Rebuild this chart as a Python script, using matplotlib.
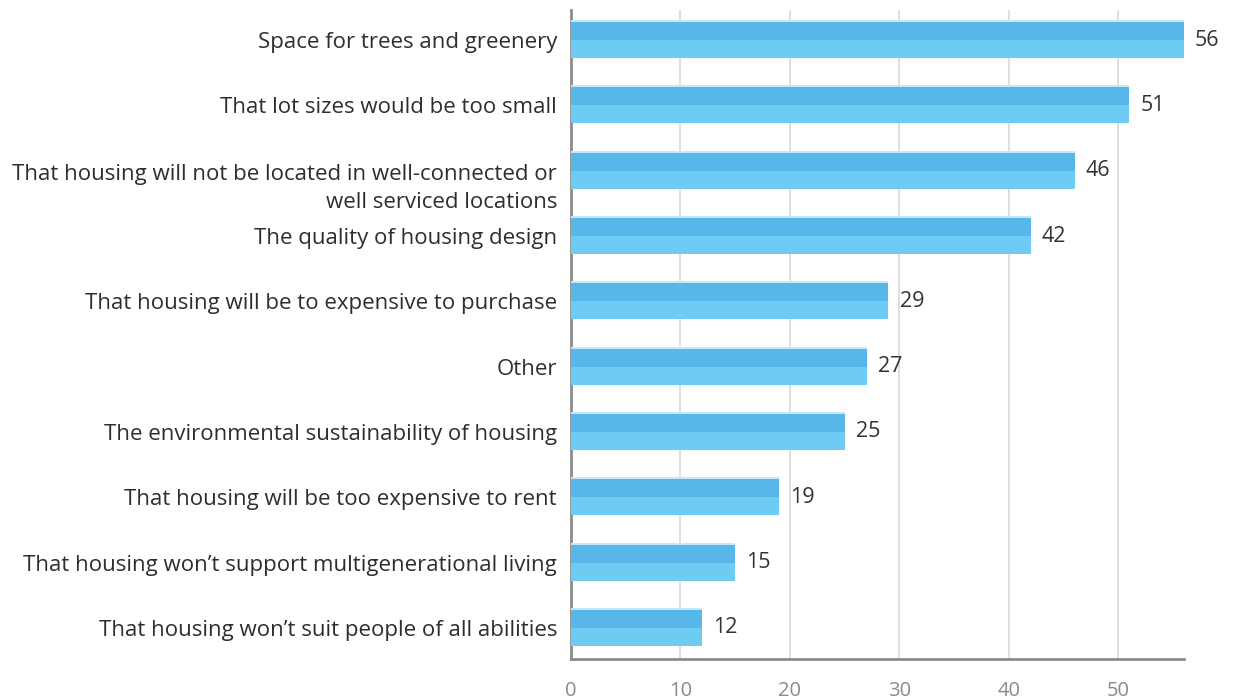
import matplotlib
matplotlib.use("Agg")
import matplotlib.pyplot as plt
from matplotlib.transforms import ScaledTranslation

categories = [
    "Space for trees and greenery",
    "That lot sizes would be too small",
    "That housing will not be located in well-connected or\nwell serviced locations",
    "The quality of housing design",
    "That housing will be to expensive to purchase",
    "Other",
    "The environmental sustainability of housing",
    "That housing will be too expensive to rent",
    "That housing won\u2019t support multigenerational living",
    "That housing won\u2019t suit people of all abilities",
]
values = [56, 51, 46, 42, 29, 27, 25, 19, 15, 12]
x_ticks = [0, 10, 20, 30, 40, 50]

plt.rcParams['font.family'] = ['Open Sans', 'DejaVu Sans']

fig = plt.figure(figsize=(12.38, 7.0), dpi=100)
ax = fig.add_axes([571 / 1238, 1 - 659 / 700, (1184 - 571) / 1238, (659 - 10) / 700])

dark = "#56b7e8"
light = "#6ecbf1"
edge = "#c6e7f6"
half = 0.275
ypos = list(range(len(categories)))

# upper (darker) half, lower (lighter) half and a thin pale top edge
ax.barh(ypos, values, height=half, align='edge', color=light, zorder=3)
ax.barh([y - half for y in ypos], values, height=half, align='edge', color=dark, zorder=3)
ax.barh([y - half - 0.03 for y in ypos], values, height=0.03, align='edge', color=edge, zorder=3)

for y, v in zip(ypos, values):
    ax.annotate(str(v), xy=(v, y), xytext=(8, 0), textcoords='offset points',
                va='center', ha='left', fontsize=15.5, color="#333333")

ax.set_xlim(0, 56)
ax.set_ylim(9.475, -0.46)
ax.set_xticks(x_ticks)
ax.set_yticks(ypos)
ax.set_yticklabels(categories, fontsize=16, color="#2e2e2e", linespacing=1.4)
ax.tick_params(axis='y', length=0, pad=10)
ax.tick_params(axis='x', length=0, pad=16, labelsize=14.5, labelcolor="#8a8a8a")

ax.grid(axis='x', color="#dcdcdc", linewidth=1.3, zorder=0)
ax.set_axisbelow(True)
for s in ['top', 'right']:
    ax.spines[s].set_visible(False)
for s in ['left', 'bottom']:
    ax.spines[s].set_color("#8c8c8c")
    ax.spines[s].set_linewidth(2)

# shift the wrapped label down so its first line sits beside its bar
lbl = ax.get_yticklabels()[2]
lbl.set_transform(lbl.get_transform() + ScaledTranslation(0, -12 / 100, fig.dpi_scale_trans))

fig.savefig("out.png", dpi=100)
